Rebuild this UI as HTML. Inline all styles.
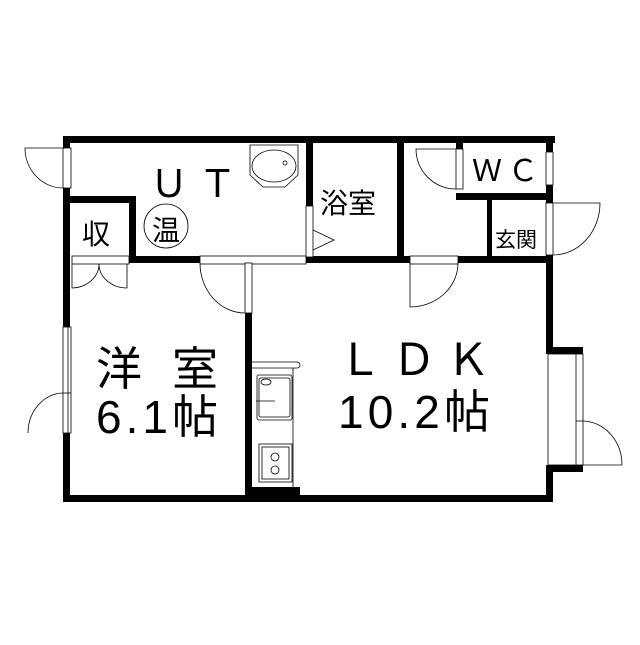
<!DOCTYPE html>
<html><head><meta charset="utf-8"><style>
body{margin:0;background:#fff}
svg text{font-family:"Liberation Sans","Noto Sans CJK JP",sans-serif;fill:#000}
</style></head><body>
<svg width="640" height="640" viewBox="0 0 640 640" xmlns="http://www.w3.org/2000/svg">
<rect width="640" height="640" fill="#fff"/>
<g fill="#000">
<rect x="63" y="136" width="492" height="7"/>
<rect x="63" y="136" width="7" height="366"/>
<rect x="63" y="495" width="490" height="7"/>
<rect x="546" y="136" width="7" height="213"/>
<rect x="546" y="347" width="37" height="7"/>
<rect x="546" y="465" width="37" height="7"/>
<rect x="546" y="465" width="7" height="37"/>
<rect x="63" y="196" width="73" height="7"/>
<rect x="129" y="196" width="7" height="64"/>
<rect x="129" y="256" width="422" height="7"/>
<rect x="306" y="143" width="7" height="63"/>
<rect x="397" y="143" width="7" height="120"/>
<rect x="456" y="193" width="93" height="7"/>
<rect x="456" y="143" width="7" height="6"/>
<rect x="487" y="200" width="5" height="57"/>
<rect x="245" y="290" width="7" height="205"/>
<rect x="252" y="487" width="48" height="8"/>
</g>
<g fill="#fff" stroke="#000" stroke-width="0.8">
<rect x="63" y="148" width="8" height="40"/>
<rect x="63" y="327" width="8" height="106"/>
<rect x="548" y="354" width="35" height="111"/>
<rect x="546" y="152" width="7" height="33"/>
<rect x="546" y="203" width="7" height="52"/>
<rect x="306" y="206" width="7" height="51"/>
<rect x="456" y="149" width="7" height="40"/>
<rect x="72" y="256" width="57" height="8"/>
<rect x="200" y="256" width="106" height="8"/>
<rect x="410" y="256" width="48" height="8"/>
<rect x="245" y="263" width="7" height="50"/>
</g>
<g fill="none" stroke="#000" stroke-width="0.8">
<line x1="576" y1="354" x2="576" y2="465"/><line x1="576" y1="421" x2="583" y2="421"/>
<line x1="68" y1="327" x2="68" y2="433"/><line x1="63" y1="393" x2="71" y2="393"/>
<path d="M63 148 L25 148 A38 40 0 0 0 63 188"/>
<path d="M63 393 A36 40 0 0 0 28 433"/>
<path d="M583 421 A40 44 0 0 1 622 465 L583 465"/>
<path d="M553 203 L600 203 A47 52 0 0 1 553 255"/>
<path d="M456 149 L416 149 A40 40 0 0 0 456 189"/>
<path d="M410 263 L410 307 A48 44 0 0 0 458 263"/>
<path d="M200 263 A45 50 0 0 0 245 313"/>
<path d="M72 264 L72 288 A28 24 0 0 0 99 264 A28 24 0 0 0 127 288 L127 264"/>
<path d="M313 230 L334 240 L313 250"/>
<path d="M250 145 L298 145 L298 175 L285 187 L263 187 L250 175 Z"/>
<ellipse cx="274" cy="166" rx="22" ry="16"/>
<circle cx="285" cy="163" r="2"/>
<path d="M252 362 L297 362 A3 3 0 0 1 297 368 L252 368"/>
<line x1="293" y1="368" x2="293" y2="487"/>
<rect x="257" y="375" width="35" height="45" rx="2"/>
<rect x="259" y="378" width="31" height="39" rx="2"/>
<ellipse cx="266" cy="382" rx="5" ry="3"/>
<line x1="256" y1="401" x2="275" y2="401"/>
<rect x="259" y="444" width="33" height="38"/>
<rect x="262" y="447" width="27" height="32"/>
<circle cx="275" cy="457" r="4"/><circle cx="275" cy="470" r="4"/>
<circle cx="166" cy="226" r="22"/>
</g>
<text x="150" y="197" font-size="38">Ｕ Ｔ</text>
<text x="166" y="240" font-size="28" text-anchor="middle">温</text>
<text x="82" y="244" font-size="28">収</text>
<text x="320" y="213" font-size="28">浴室</text>
<text x="472" y="181" font-size="30" letter-spacing="6">ＷＣ</text>
<text x="495" y="247" font-size="21">玄関</text>
<text x="96" y="385" font-size="46" textLength="122">洋 室</text>
<text x="96" y="433" font-size="46" textLength="122">6.1帖</text>
<text x="338" y="375" font-size="44" textLength="152">ＬＤＫ</text>
<text x="338" y="428" font-size="46" textLength="152">10.2帖</text>
</svg>
</body></html>
